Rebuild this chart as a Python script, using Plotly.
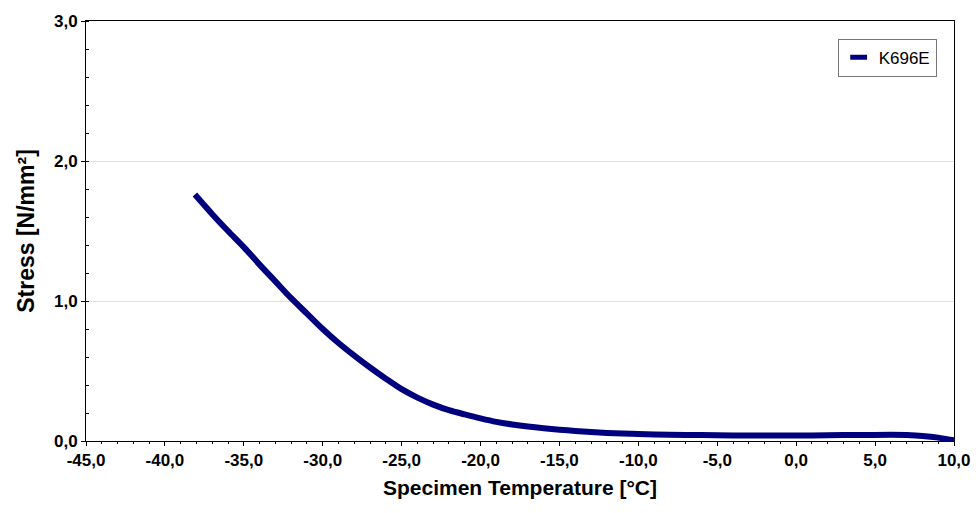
import plotly.graph_objects as go

temperature = [-38.1, -37, -36, -35, -34, -33, -32, -31, -30, -29, -28, -27, -26, -25,
               -24, -23, -22, -21, -20, -19, -18, -17, -16, -15, -14, -13, -12, -11,
               -10, -8, -6, -4, -2, 0, 2, 4, 6, 7, 8, 9, 10]
stress = [1.76, 1.62, 1.50, 1.385, 1.26, 1.14, 1.02, 0.91, 0.80, 0.70, 0.61, 0.525, 0.445, 0.37,
          0.31, 0.26, 0.22, 0.19, 0.162, 0.137, 0.118, 0.103, 0.091, 0.081, 0.072, 0.064, 0.058, 0.054,
          0.050, 0.045, 0.042, 0.040, 0.039, 0.039, 0.041, 0.043, 0.044, 0.042, 0.036, 0.024, 0.005]
series_name = "K696E"
x_ticks = [-45, -40, -35, -30, -25, -20, -15, -10, -5, 0, 5, 10]
x_tick_labels = ["-45,0", "-40,0", "-35,0", "-30,0", "-25,0", "-20,0", "-15,0",
                 "-10,0", "-5,0", "0,0", "5,0", "10,0"]
y_ticks = [0, 1, 2, 3]
y_tick_labels = ["0,0", "1,0", "2,0", "3,0"]

navy = "#00007f"
fig = go.Figure()
fig.add_trace(go.Scatter(x=temperature, y=stress, mode="lines", name=series_name,
                         line=dict(color=navy, width=6, shape="spline", smoothing=0.8),
                         showlegend=False))
# legend entry drawn as a short thick dash
fig.add_trace(go.Scatter(x=[None], y=[None], mode="markers", name=series_name,
                         marker=dict(symbol="line-ew", size=12,
                                     line=dict(color=navy, width=5))))

font_family = "Liberation Sans, Arial, sans-serif"
fig.update_layout(
    width=976, height=513,
    margin=dict(l=86, r=22, t=21, b=72),
    plot_bgcolor="white", paper_bgcolor="white",
    font=dict(family=font_family, color="black"),
    showlegend=True,
    legend=dict(x=0.98, y=0.958, xanchor="right", yanchor="top",
                bgcolor="white", bordercolor="#777777", borderwidth=1,
                font=dict(size=17, family=font_family), itemwidth=30,
                tracegroupgap=0),
)
fig.update_xaxes(
    range=[-45, 10], tickvals=x_ticks, ticktext=x_tick_labels, automargin=False,
    showline=True, linecolor="black", linewidth=1, mirror=True,
    ticks="outside", ticklen=4, tickcolor="black",
    minor=dict(dtick=1, ticks="outside", ticklen=2, tickcolor="black"),
    showgrid=False, zeroline=False,
    tickfont=dict(size=17, weight="bold"),
    title=dict(text="Specimen Temperature [°C]", font=dict(size=21, weight="bold"), standoff=10),
)
fig.update_yaxes(
    range=[0, 3], tickvals=y_ticks, ticktext=y_tick_labels, automargin=False,
    showline=True, linecolor="black", linewidth=1, mirror=True,
    ticks="outside", ticklen=4, tickcolor="black",
    minor=dict(dtick=0.2, ticks="inside", ticklen=3, tickcolor="black"),
    showgrid=True, gridcolor="#e0e0e0", zeroline=False,
    tickfont=dict(size=17, weight="bold"),
    title=dict(text="Stress [N/mm²]", font=dict(size=23, weight="bold"), standoff=12),
)
fig.write_html("out.html")
